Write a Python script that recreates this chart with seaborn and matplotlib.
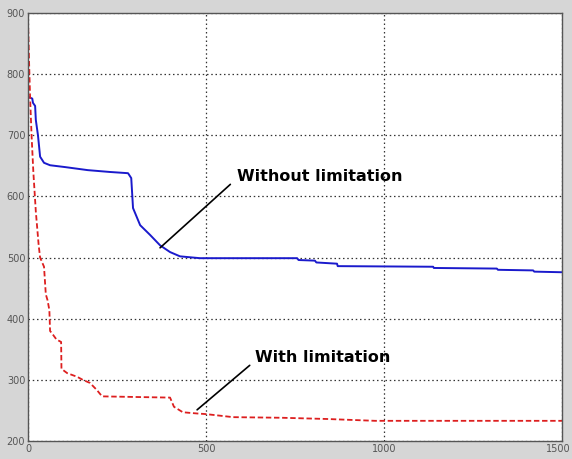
import matplotlib
matplotlib.use("Agg")
import matplotlib.pyplot as plt
import matplotlib.transforms as mtransforms
import seaborn as sns
import pandas as pd

# Data
blue_x = [0, 12, 14, 20, 22, 28, 34, 45, 62, 104, 168, 230, 281, 290, 295, 315, 343, 371, 399, 427, 483,
          756, 760, 806, 810, 868, 870, 1138, 1140, 1317, 1320, 1419, 1422, 1500]
blue_y = [763, 760, 753, 748, 725, 700, 665, 655, 651, 648, 643, 640, 638, 630, 581, 553, 537, 520, 509, 502, 499,
          499, 496, 495, 492, 490, 486, 485, 483, 482, 480, 479, 477, 476]

red_x = [0, 3, 6, 10, 15, 22, 30, 34, 45, 50, 55, 60, 62, 70, 80, 93, 94, 110, 138, 154, 174, 194,
         208, 300, 399, 410, 435, 475, 500, 576, 713, 840, 975, 1500]
red_y = [888, 820, 760, 700, 640, 575, 520, 500, 485, 440, 430, 414, 380, 374, 366, 362, 318, 311, 305,
         300, 295, 283, 273, 272, 271, 256, 247, 245, 244, 239, 238, 236, 233, 233]

x_ticks = [0, 500, 1000, 1500]
y_ticks = [200, 300, 400, 500, 600, 700, 800, 900]

label_without = "Without limitation"
label_with = "With limitation"

sns.set_style("white")
plt.rcParams['font.family'] = ['DejaVu Sans']

fig = plt.figure(figsize=(5.72, 4.59), dpi=100, facecolor="#d6d6d6")
ax = fig.add_axes([28/572, 18/459, 534/572, 428/459])
ax.set_facecolor("white")

blue_df = pd.DataFrame({"x": blue_x, "y": blue_y})
red_df = pd.DataFrame({"x": red_x, "y": red_y})

sns.lineplot(data=blue_df, x="x", y="y", ax=ax, color="#1a1acc", linewidth=1.4,
             estimator=None, sort=False)
sns.lineplot(data=red_df, x="x", y="y", ax=ax, color="#dd1f1f", linewidth=1.3,
             estimator=None, sort=False, linestyle=(0, (3, 1.5)))

ax.set_xlim(0, 1500)
ax.set_ylim(200, 900)
ax.set_xticks(x_ticks)
ax.set_yticks(y_ticks)
ax.set_xticklabels([str(v) for v in x_ticks])
ax.set_yticklabels([str(v) for v in y_ticks])
ax.set_xlabel("")
ax.set_ylabel("")

ax.grid(True, color="#333333", linestyle=(0, (1.2, 2.2)), linewidth=0.9)
ax.tick_params(axis="both", direction="in", length=3, labelsize=7, labelcolor="#555555",
               colors="#555555", pad=2)
for s in ax.spines.values():
    s.set_color("#555555")
    s.set_linewidth(1.0)

# keep the last x tick label inside the figure
last = ax.get_xticklabels()[-1]
last.set_transform(last.get_transform() +
                   mtransforms.ScaledTranslation(-4/100, 0, fig.dpi_scale_trans))

ax.annotate(label_without, xy=(371, 516), xytext=(587, 632), fontsize=11.5,
            fontweight="bold", color="black", va="center", ha="left",
            arrowprops=dict(arrowstyle="-", color="black", lw=1.2, shrinkA=0, shrinkB=0,
                            relpos=(-0.04, 0.0)))
ax.annotate(label_with, xy=(475, 251), xytext=(638, 336), fontsize=11.5,
            fontweight="bold", color="black", va="center", ha="left",
            arrowprops=dict(arrowstyle="-", color="black", lw=1.2, shrinkA=0, shrinkB=0,
                            relpos=(-0.04, 0.0)))

fig.savefig("out.png", dpi=100, facecolor=fig.get_facecolor())
